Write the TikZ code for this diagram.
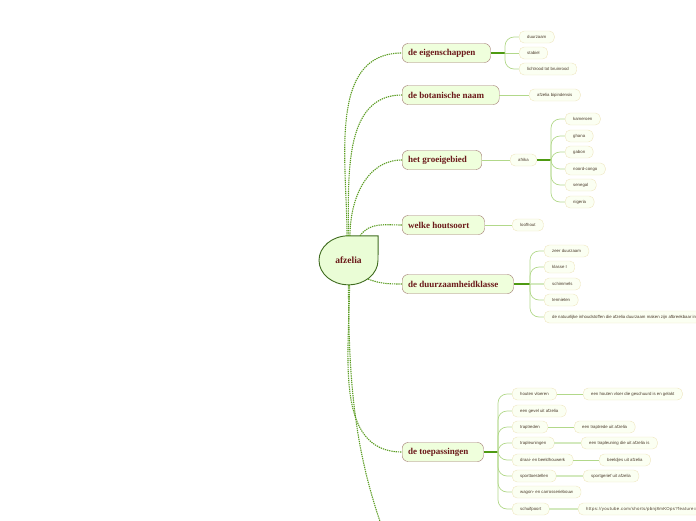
\documentclass[tikz,border=0pt]{standalone}
\usepackage{fontspec}
\setmainfont{Liberation Serif}
\setsansfont{Liberation Sans}
\usetikzlibrary{positioning}
\definecolor{rootfill}{HTML}{EAFDD6}
\definecolor{rootline}{HTML}{3F6B1F}
\definecolor{topicfill}{HTML}{EFFFDC}
\definecolor{topicline}{HTML}{A07A70}
\definecolor{topictext}{HTML}{6B1A1A}
\definecolor{leaffill}{HTML}{FBFFF2}
\definecolor{leafline}{HTML}{EFE6C0}
\definecolor{leaftext}{HTML}{4A3A2A}
\definecolor{linkgreen}{HTML}{5B9C22}
\definecolor{trunkgreen}{HTML}{4E9A12}
\definecolor{twiggreen}{HTML}{B2D88A}
\definecolor{palegreen}{HTML}{D3E9BE}

\begin{document}
\begin{tikzpicture}[
  x=1pt, y=-1pt,
  topic/.style={draw=topicline, fill=topicfill, text=topictext, rounded corners=6pt,
                font=\bfseries\fontsize{9}{10}\selectfont, minimum height=19pt,
                inner xsep=6pt, anchor=west, execute at end node=\hspace*{9pt}},
  leaf/.style={draw=leafline, fill=leaffill, text=leaftext, rounded corners=5pt,
               font=\sffamily\fontsize{4.3}{5}\selectfont, minimum height=12pt,
               inner xsep=8pt, anchor=west},
  link/.style={draw=linkgreen, line width=1.1pt, dash pattern=on 1.3pt off 0.9pt},
  trunk/.style={draw=trunkgreen, line width=1.3pt},
  twig/.style={draw=twiggreen, line width=0.7pt, rounded corners=9pt},
  wide twig/.style={draw=palegreen, line width=1.6pt}
]
  \useasboundingbox (0,0) rectangle (696,520);

  % centre
  \node[minimum width=59pt, minimum height=49pt, inner sep=0pt] (root) at (348.5,260.5) {};
  \draw[rootline, fill=rootfill, line width=0.9pt] (root.north east) -- (root.north)
    arc[start angle=90, end angle=270, x radius=29.5pt, y radius=24.5pt]
    arc[start angle=270, end angle=360, x radius=29.5pt, y radius=24.5pt] -- cycle;
  \node[text=topictext, font=\bfseries\fontsize{9.5}{11}\selectfont] at (root) {afzelia};

  % main topics
  \node[topic] (eig)   at (402,53)  {de eigenschappen};
  \node[topic] (bot)   at (402,95)  {de botanische naam};
  \node[topic] (groei) at (402,160) {het groeigebied};
  \node[topic] (hout)  at (402,225) {welke houtsoort};
  \node[topic] (duur)  at (402,284) {de duurzaamheidklasse};
  \node[topic] (toep)  at (402,452) {de toepassingen};
  \coordinate (more) at (412,600);

  \draw[link] ([xshift=-1.5pt]root.north) to[out=90, in=180] (eig.west);
  \draw[link] (root.north) to[out=90, in=180] (bot.west);
  \draw[link] ([xshift=1.5pt]root.north) to[out=90, in=180] (groei.west);
  \draw[link] ([xshift=11.5pt]root.north) to[out=55, in=180] (hout.west);
  \draw[link] ([xshift=-10pt, yshift=6pt]root.south east) to[out=-20, in=180] (duur.west);
  \draw[link] ([xshift=1pt]root.south) to[out=270, in=180] (toep.west);
  \draw[link] (root.south) to[out=270, in=115] (more);

  % de eigenschappen
  \node[leaf] (duurzaam) at (519,37) {duurzaam};
  \node[leaf] (stabiel)  at (519,53) {stabiel};
  \node[leaf] (kleur)    at (519,69) {lichtrood tot bruinrood};
  \coordinate (bEig) at (505,53);
  \draw[trunk] (eig.east) -- (bEig);
  \draw[twig] (bEig) |- (duurzaam.west);
  \draw[twig] (bEig) -- (stabiel.west);
  \draw[twig] (bEig) |- (kleur.west);

  % de botanische naam
  \node[leaf] (bipind) at (529,95) {afzelia bipindensis};
  \draw[twig] (bot.east) -- (bipind.west);

  % het groeigebied
  \node[leaf] (afrika)   at (510,160) {afrika};
  \node[leaf] (kameroen) at (565,119) {kameroen};
  \node[leaf] (ghana)    at (565,136) {ghana};
  \node[leaf] (gabon)    at (565,152) {gabon};
  \node[leaf] (congo)    at (565,169) {noord-congo};
  \node[leaf] (senegal)  at (565,185) {senegal};
  \node[leaf] (nigeria)  at (565,202) {nigeria};
  \coordinate (bAfr) at (551,160);
  \draw[twig] (groei.east) -- (afrika.west);
  \draw[trunk] (afrika.east) -- (bAfr);
  \foreach \land in {kameroen, ghana, gabon, congo, senegal, nigeria}
    \draw[twig] (bAfr) |- (\land.west);

  % welke houtsoort
  \node[leaf] (loofhout) at (512,225) {loofhout};
  \draw[twig] (hout.east) -- (loofhout.west);

  % de duurzaamheidklasse
  \node[leaf] (zeer)      at (544,251) {zeer duurzaam};
  \node[leaf] (klasse)    at (544,267) {klasse I};
  \node[leaf] (schimmels) at (544,284) {schimmels};
  \node[leaf] (termieten) at (544,300) {termieten};
  \node[leaf] (stoffen)   at (544,317) {de natuurlijke inhoudstoffen die afzelia duurzaam maken zijn afbreekbaar in};
  \coordinate (bDuur) at (530,284);
  \draw[trunk] (duur.east) -- (bDuur);
  \draw[twig] (bDuur) |- (zeer.west);
  \draw[twig] (bDuur) |- (klasse.west);
  \draw[wide twig] (bDuur) -- (schimmels.west);
  \draw[twig] (bDuur) |- (termieten.west);
  \draw[twig] (bDuur) |- (stoffen.west);

  % de toepassingen
  \node[leaf] (vloeren)   at (512,394) {houten vloeren};
  \node[leaf] (gevel)     at (512,411) {een gevel uit afzelia};
  \node[leaf] (treden)    at (512,427) {traptreden};
  \node[leaf] (leuningen) at (512,443) {trapleuningen};
  \node[leaf] (draai)     at (512,460) {draai- en beeldhouwerk};
  \node[leaf] (sport)     at (512,476) {sporttoestellen};
  \node[leaf] (wagon)     at (512,492) {wagon- en carrosseriebouw};
  \node[leaf] (poort)     at (512,509) {schuifpoort};
  \node[leaf] (vloer)     at (583,394) {een houten vloer die geschuurd is en gelakt};
  \node[leaf] (trede)     at (574,427) {een traptrede uit afzelia};
  \node[leaf] (leuning)   at (581,443) {een trapleuning die uit afzelia is};
  \node[leaf] (beeldjes)  at (599,460) {beeldjes uit afzelia};
  \node[leaf] (gerief)    at (583,476) {sportgerief uit afzelia};
  \node[leaf, font=\sffamily\fontsize{4.3}{5}\selectfont\addfontfeature{LetterSpace=8}]
    (filmpje) at (578,509) {https://youtube.com/shorts/pbnj8mKOps?feature=share};
  \coordinate (bToep) at (498,452);
  \draw[trunk] (toep.east) -- (bToep);
  \foreach \toe in {vloeren, gevel, treden, leuningen, draai, sport, wagon, poort}
    \draw[twig] (bToep) |- (\toe.west);
  \draw[twig] (vloeren.east) -- (vloer.west);
  \draw[twig] (treden.east) -- (trede.west);
  \draw[wide twig] (leuningen.east) -- (leuning.west);
  \draw[twig] (draai.east) -- (beeldjes.west);
  \draw[wide twig] (sport.east) -- (gerief.west);
  \draw[wide twig] (poort.east) -- (filmpje.west);
\end{tikzpicture}
\end{document}
